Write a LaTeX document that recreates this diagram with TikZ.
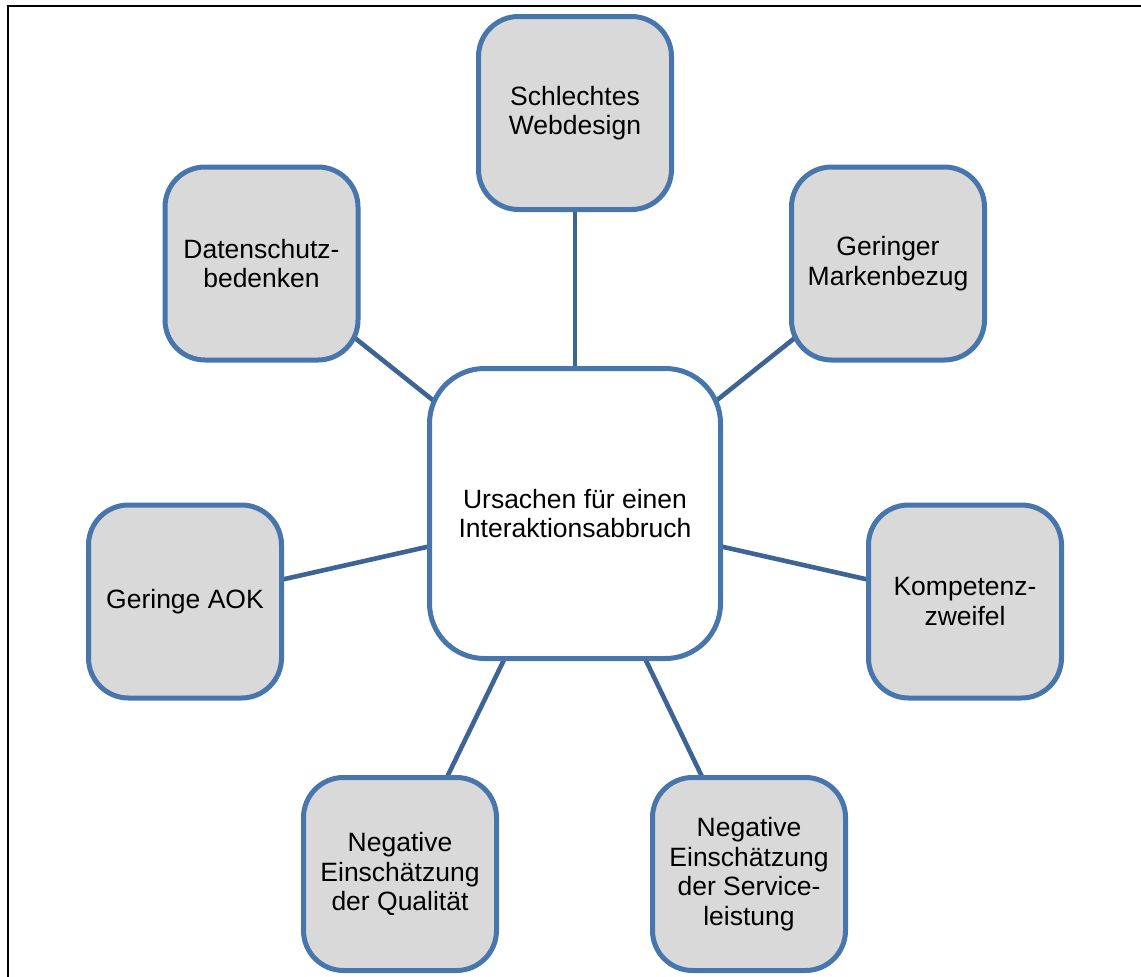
\documentclass[tikz,border=0pt]{standalone}
\usepackage{fontspec}
\setmainfont{Liberation Sans}
\usetikzlibrary{backgrounds}
\definecolor{boxblue}{RGB}{71,118,172}
\definecolor{linkblue}{RGB}{62,100,150}
\definecolor{boxgray}{RGB}{217,217,217}
\tikzset{
  cause/.style={draw=boxblue, line width=5pt, fill=boxgray, rounded corners=40pt,
    minimum width=193pt, minimum height=193pt, align=center, inner sep=0pt,
    font=\fontsize{26.5}{29.5}\selectfont},
  core/.style={cause, fill=white, rounded corners=55pt,
    minimum width=291pt, minimum height=290pt},
  link/.style={draw=linkblue, line width=4.6pt}
}
\begin{document}
\begin{tikzpicture}[x=1pt, y=-1pt]
  \useasboundingbox (0,0) rectangle (1141,977);
  % page frame (only top and left edges are visible)
  \draw[line width=1.8pt] (8,1000) -- (8,6) -- (1160,6);

  \node[core]  (c)  at (575,513.5) {Ursachen für einen\\Interaktionsabbruch};
  \node[cause] (web) at (575,113) {Schlechtes\\Webdesign};
  \node[cause] (dat) at (261.5,263.5) {Datenschutz-\\bedenken};
  \node[cause] (mar) at (888,263.5) {Geringer\\Markenbezug};
  \node[cause] (aok) at (185,601.5) {Geringe AOK};
  \node[cause] (kom) at (965,601.5) {Kompetenz-\\zweifel};
  \node[cause] (qua) at (400,874) {Negative\\Einschätzung\\der Qualität};
  \node[cause] (ser) at (749,874) {Negative\\Einschätzung\\der Service-\\leistung};

  % connectors run centre to centre behind the filled boxes
  \begin{scope}[on background layer]
    \foreach \n in {web,dat,mar,aok,kom,qua,ser}
      \draw[link] (c.center) -- (\n.center);
  \end{scope}
\end{tikzpicture}
\end{document}
